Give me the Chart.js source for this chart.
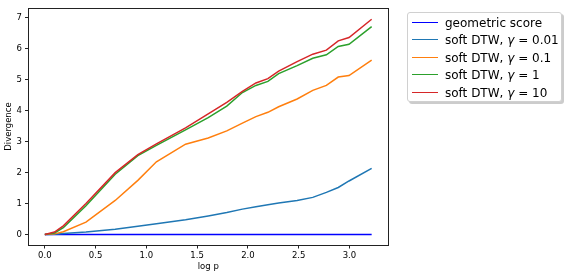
<!DOCTYPE html>
<html>
<head>
<meta charset="utf-8">
<script src="https://cdn.jsdelivr.net/npm/chart.js@4.4.1/dist/chart.umd.min.js"></script>
<style>
  html, body { margin: 0; padding: 0; background: #fff; }
  #wrap { position: relative; width: 568px; height: 277px; }
  #legend {
    position: absolute; left: 407px; top: 12px; width: 155px; height: 90px;
    box-sizing: border-box; border: 1px solid #d0d0d0; border-radius: 3px; background: #fff;
    box-shadow: 2px 2px 0 rgba(0,0,0,0.2);
    font-family: "DejaVu Sans", sans-serif; font-size: 12px; color: #000;
  }
  .row { position: absolute; left: 0; height: 16px; line-height: 16px; white-space: nowrap; }
  .sw { position: absolute; left: 4px; top: 7px; width: 26px; height: 0; border-top: 1.5px solid; }
  .lab { position: absolute; left: 37px; top: 0; }
</style>
</head>
<body>
<div id="wrap">
  <canvas id="c" width="568" height="277"></canvas>
  <div id="legend"></div>
</div>
<script>
// x positions (log p) and series
const logP      = [0, 0.095, 0.182, 0.405, 0.693, 0.916, 1.099, 1.386, 1.609, 1.792, 1.946, 2.079, 2.197, 2.303, 2.485, 2.639, 2.773, 2.890, 2.996, 3.219];
const geometric = [0, 0, 0, 0, 0, 0, 0, 0, 0, 0, 0, 0, 0, 0, 0, 0, 0, 0, 0, 0];
const dtw001    = [0, 0.01, 0.03, 0.08, 0.17, 0.27, 0.35, 0.48, 0.60, 0.71, 0.82, 0.90, 0.96, 1.02, 1.10, 1.20, 1.36, 1.52, 1.73, 2.14];
const dtw01     = [0, 0.02, 0.09, 0.40, 1.10, 1.75, 2.35, 2.92, 3.12, 3.35, 3.60, 3.81, 3.95, 4.13, 4.38, 4.66, 4.82, 5.09, 5.14, 5.64];
const dtw1      = [0, 0.05, 0.22, 0.93, 1.95, 2.55, 2.88, 3.38, 3.78, 4.15, 4.59, 4.82, 4.95, 5.20, 5.46, 5.70, 5.81, 6.08, 6.15, 6.72];
const dtw10     = [0, 0.08, 0.28, 1.00, 2.00, 2.58, 2.93, 3.45, 3.90, 4.27, 4.63, 4.90, 5.04, 5.28, 5.59, 5.83, 5.96, 6.26, 6.37, 6.96];

const seriesNames  = ['geometric score', 'soft DTW, ', 'soft DTW, ', 'soft DTW, ', 'soft DTW, '];
const gammaLabels  = [null, '0.01', '0.1', '1', '10'];
const seriesColors = ['#0000ff', '#1f77b4', '#ff7f0e', '#2ca02c', '#d62728'];
const seriesData   = [geometric, dtw001, dtw01, dtw1, dtw10];

const xTicks = [0, 0.5, 1.0, 1.5, 2.0, 2.5, 3.0];
const yTicks = [0, 1, 2, 3, 4, 5, 6, 7];

const tickFont = { family: 'DejaVu Sans', size: 8.5 };

// matplotlib-style box around the plot area
const frame = {
  id: 'frame',
  afterDatasetsDraw(chart) {
    const a = chart.chartArea, ctx = chart.ctx;
    ctx.save();
    ctx.strokeStyle = '#222';
    ctx.lineWidth = 1;
    const l = Math.floor(a.left) + 0.5, t = Math.floor(a.top) + 0.5;
    const r = Math.floor(a.right) + 0.5, b = Math.floor(a.bottom) + 0.5;
    ctx.strokeRect(l, t, r - l, b - t);
    ctx.restore();
  }
};

const datasets = seriesData.map((arr, i) => ({
  label: seriesNames[i] + (gammaLabels[i] ? 'γ = ' + gammaLabels[i] : ''),
  data: logP.map((x, j) => ({ x: x, y: arr[j] })),
  borderColor: seriesColors[i],
  backgroundColor: seriesColors[i],
  borderWidth: 1.5,
  pointRadius: 0,
  tension: 0,
  fill: false,
  order: seriesData.length - i   // later series on top
}));

new Chart(document.getElementById('c').getContext('2d'), {
  type: 'line',
  data: { datasets },
  options: {
    responsive: false,
    animation: false,
    devicePixelRatio: 1,
    layout: { padding: { left: 0, right: 180, top: 5, bottom: 0 } },
    plugins: { legend: { display: false }, tooltip: { enabled: false } },
    scales: {
      x: {
        type: 'linear',
        min: -0.161, max: 3.38,
        afterBuildTicks: s => { s.ticks = xTicks.map(v => ({ value: v })); },
        afterFit: s => { s.height = 32; },
        ticks: { font: tickFont, color: '#000', padding: 2, maxRotation: 0, autoSkip: false,
                 callback: v => Number(v).toFixed(1) },
        grid: { drawOnChartArea: false, drawTicks: true, tickLength: 3.5, tickColor: '#222' },
        border: { display: false },
        title: { display: true, text: 'log p', font: tickFont, color: '#000', padding: { top: 0, bottom: 5.2 } }
      },
      y: {
        type: 'linear',
        min: -0.34, max: 7.32,
        afterBuildTicks: s => { s.ticks = yTicks.map(v => ({ value: v })); },
        afterFit: s => { s.width = 28.5; },
        ticks: { font: tickFont, color: '#000', padding: 3, autoSkip: false,
                 callback: v => String(v) },
        grid: { drawOnChartArea: false, drawTicks: true, tickLength: 3.5, tickColor: '#222' },
        border: { display: false },
        title: { display: true, text: 'Divergence', font: tickFont, color: '#000', padding: { top: 3.9, bottom: 0 } }
      }
    }
  },
  plugins: [frame]
});

// legend built from the same series lists
const leg = document.getElementById('legend');
seriesNames.forEach((name, i) => {
  const row = document.createElement('div');
  row.className = 'row';
  row.style.top = (1.5 + i * 17.6) + 'px';
  row.style.width = '100%';
  const sw = document.createElement('div');
  sw.className = 'sw';
  sw.style.borderTopColor = seriesColors[i];
  const lab = document.createElement('span');
  lab.className = 'lab';
  lab.textContent = name;
  if (gammaLabels[i]) {
    const g = document.createElement('i');
    g.textContent = 'γ';
    lab.appendChild(g);
    lab.appendChild(document.createTextNode(' = ' + gammaLabels[i]));
  }
  row.appendChild(sw);
  row.appendChild(lab);
  leg.appendChild(row);
});
</script>
</body>
</html>
